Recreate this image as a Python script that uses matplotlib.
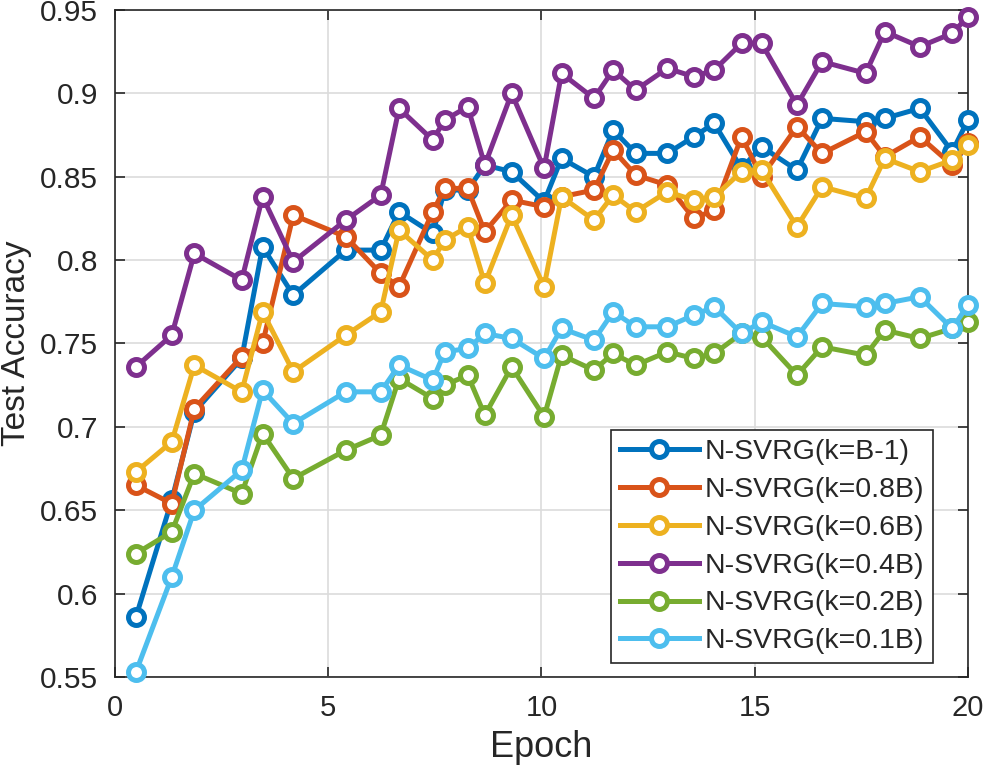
import matplotlib
matplotlib.use("Agg")
import matplotlib.pyplot as plt

# epochs where the test accuracy was measured (shared by every run)
epoch = [0.49, 1.33, 1.86, 2.97, 3.46, 4.18, 5.41, 6.23, 6.66, 7.45, 7.73,
         8.27, 8.67, 9.30, 10.06, 10.47, 11.23, 11.68, 12.21, 12.95, 13.57,
         14.05, 14.69, 15.16, 15.99, 16.58, 17.60, 18.05, 18.87, 19.63, 20.0]

acc_b1 = [0.586, 0.656, 0.709, 0.741, 0.808, 0.779, 0.806, 0.806, 0.829, 0.816, 0.842,
          0.842, 0.857, 0.853, 0.835, 0.861, 0.850, 0.878, 0.864, 0.864, 0.874,
          0.882, 0.855, 0.868, 0.854, 0.885, 0.883, 0.885, 0.891, 0.865, 0.884]
acc_08 = [0.665, 0.654, 0.711, 0.742, 0.750, 0.827, 0.814, 0.792, 0.784, 0.829, 0.843,
          0.843, 0.817, 0.836, 0.832, 0.838, 0.842, 0.866, 0.851, 0.845, 0.825,
          0.830, 0.874, 0.850, 0.880, 0.864, 0.877, 0.862, 0.874, 0.857, 0.870]
acc_06 = [0.673, 0.691, 0.737, 0.721, 0.769, 0.733, 0.755, 0.769, 0.818, 0.800, 0.812,
          0.820, 0.786, 0.827, 0.784, 0.838, 0.824, 0.839, 0.829, 0.841, 0.836,
          0.838, 0.853, 0.854, 0.820, 0.844, 0.837, 0.861, 0.853, 0.860, 0.869]
acc_04 = [0.736, 0.755, 0.804, 0.788, 0.838, 0.799, 0.824, 0.839, 0.891, 0.872, 0.884,
          0.892, 0.857, 0.900, 0.855, 0.912, 0.897, 0.914, 0.902, 0.915, 0.910,
          0.914, 0.930, 0.930, 0.893, 0.919, 0.912, 0.937, 0.928, 0.936, 0.946]
acc_02 = [0.624, 0.637, 0.672, 0.660, 0.696, 0.669, 0.686, 0.695, 0.729, 0.717, 0.725,
          0.731, 0.707, 0.736, 0.706, 0.743, 0.734, 0.744, 0.737, 0.745, 0.741,
          0.744, 0.756, 0.754, 0.731, 0.748, 0.743, 0.758, 0.753, 0.759, 0.763]
acc_01 = [0.553, 0.610, 0.650, 0.674, 0.722, 0.702, 0.721, 0.721, 0.737, 0.728, 0.745,
          0.747, 0.756, 0.753, 0.741, 0.759, 0.752, 0.769, 0.760, 0.760, 0.767,
          0.772, 0.756, 0.763, 0.754, 0.774, 0.772, 0.774, 0.778, 0.759, 0.773]

labels = ["N-SVRG(k=B-1)", "N-SVRG(k=0.8B)", "N-SVRG(k=0.6B)",
          "N-SVRG(k=0.4B)", "N-SVRG(k=0.2B)", "N-SVRG(k=0.1B)"]
series = [acc_b1, acc_08, acc_06, acc_04, acc_02, acc_01]
# matlab default colour order
colors = ["#0072BD", "#D95319", "#EDB120", "#7E2F8E", "#77AC30", "#4DBEEE"]

plt.rcParams['font.family'] = ["Liberation Sans", "DejaVu Sans"]

fig = plt.figure(figsize=(9.84, 7.73), dpi=100)
ax = fig.add_axes([0.1169, 0.1242, 0.8668, 0.8629])

for y, lab, c in zip(series, labels, colors):
    ax.plot(epoch, y, color=c, lw=3.6, marker='o', ms=11.5, mew=3.6,
            mfc='white', mec=c, label=lab, clip_on=False, zorder=3)

ax.set_xlim(0, 20)
ax.set_ylim(0.55, 0.95)
ax.set_xticks([0, 5, 10, 15, 20])
ax.set_yticks([0.55, 0.6, 0.65, 0.7, 0.75, 0.8, 0.85, 0.9, 0.95])
ax.set_yticklabels(["0.55", "0.6", "0.65", "0.7", "0.75", "0.8", "0.85", "0.9", "0.95"])
ax.grid(True, color="#dcdcdc", lw=1.2)
ax.set_axisbelow(True)
ax.tick_params(direction='in', top=True, right=True, length=7, width=1.2,
               color="#262626", labelcolor="#262626")
ax.tick_params(axis='y', labelsize=21.5, pad=12)
ax.tick_params(axis='x', labelsize=21, pad=12)
for s in ax.spines.values():
    s.set_color("#262626")
    s.set_linewidth(1.2)

ax.set_xlabel("Epoch", fontsize=26, color="#262626", labelpad=6)
ax.set_ylabel("Test Accuracy", fontsize=24, color="#262626", labelpad=6)

leg = ax.legend(loc='lower right', bbox_to_anchor=(0.959, 0.021), fontsize=20.5,
                fancybox=False, framealpha=1, edgecolor="#262626",
                handlelength=2.8, borderpad=0.3, labelspacing=0.42,
                handletextpad=0.2, borderaxespad=0)
leg.get_frame().set_linewidth(1.2)
for t in leg.get_texts():
    t.set_color("#262626")

fig.savefig("out.png", dpi=100)
